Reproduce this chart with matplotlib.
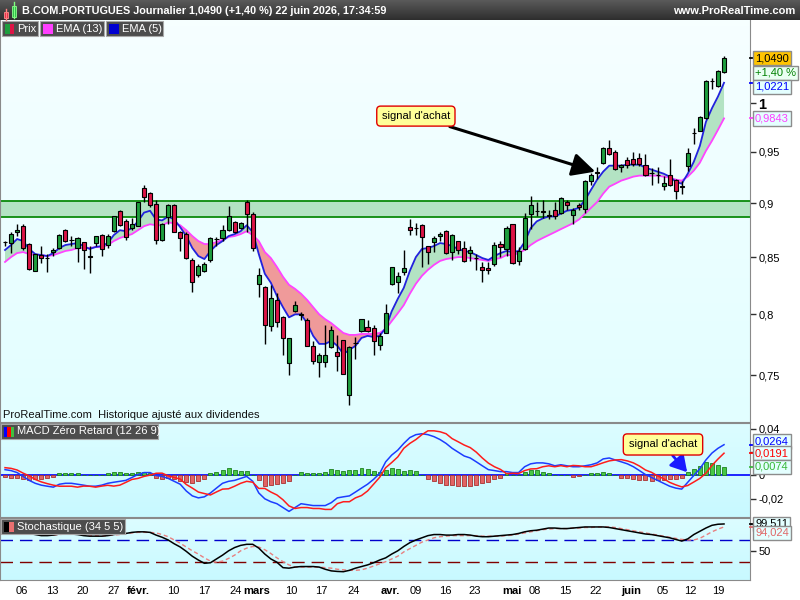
import numpy as np
import matplotlib
matplotlib.use("Agg")
from matplotlib import pyplot as plt
from matplotlib.patches import Rectangle
from matplotlib.colors import LinearSegmentedColormap
from matplotlib.ticker import NullLocator

plt.rcParams['font.family'] = ['Liberation Sans', 'DejaVu Sans']

# daily candles, B.COM.PORTUGUES (02 janv. -> 22 juin 2026)
opens = [0.864, 0.863, 0.8725, 0.8785, 0.862, 0.838, 0.852, 0.849, 0.8543, 0.858,
         0.8745, 0.8657, 0.8585, 0.8634, 0.8506, 0.8627, 0.8697, 0.861, 0.8734, 0.8925,
         0.8834, 0.8761, 0.8785, 0.9144, 0.910, 0.8988, 0.8657, 0.8866, 0.8979, 0.8725,
         0.8709, 0.8476, 0.8342, 0.838, 0.8471, 0.8664, 0.8673, 0.8748, 0.8825, 0.8766,
         0.9012, 0.890, 0.8257, 0.8234, 0.790, 0.8123, 0.798, 0.7596, 0.8029, 0.800,
         0.795, 0.774, 0.7604, 0.761, 0.7732, 0.7686, 0.7787, 0.7346, 0.776, 0.7858,
         0.7896, 0.7883, 0.7748, 0.7842, 0.8257, 0.8283, 0.8366, 0.8773, 0.8764, 0.8791,
         0.8597, 0.8634, 0.8688, 0.8734, 0.8543, 0.8643, 0.858, 0.8534, 0.849, 0.841,
         0.8404, 0.8436, 0.8618, 0.8573, 0.880, 0.8462, 0.8573, 0.8897, 0.892, 0.8915,
         0.8875, 0.8936, 0.8906, 0.9007, 0.8885, 0.8982, 0.8942, 0.9213, 0.930, 0.9389,
         0.9544, 0.9503, 0.9346, 0.9422, 0.9432, 0.9438, 0.9366, 0.929, 0.9275, 0.916,
         0.9275, 0.922, 0.9155, 0.9356, 0.969, 0.9714, 0.985, 1.0235, 1.019, 1.0335]
highs = [0.865, 0.873, 0.880, 0.880, 0.8625, 0.853, 0.860, 0.853, 0.858, 0.871,
         0.8755, 0.8694, 0.868, 0.864, 0.860, 0.8694, 0.871, 0.871, 0.8882, 0.8936,
         0.8845, 0.886, 0.901, 0.9176, 0.911, 0.9027, 0.8815, 0.8988, 0.8988, 0.874,
         0.8725, 0.8489, 0.8439, 0.8453, 0.8682, 0.868, 0.8791, 0.8975, 0.883, 0.8825,
         0.9027, 0.8912, 0.840, 0.824, 0.825, 0.818, 0.7986, 0.7805, 0.811, 0.802,
         0.7973, 0.7775, 0.768, 0.791, 0.7904, 0.7828, 0.779, 0.7735, 0.781, 0.7962,
         0.795, 0.791, 0.7844, 0.8088, 0.8415, 0.837, 0.8567, 0.8852, 0.8815, 0.880,
         0.8603, 0.8688, 0.873, 0.8743, 0.871, 0.8648, 0.8643, 0.8603, 0.8527, 0.8459,
         0.8453, 0.8634, 0.8648, 0.8785, 0.8806, 0.8588, 0.8906, 0.907, 0.9013, 0.9027,
         0.893, 0.901, 0.906, 0.9027, 0.8955, 0.900, 0.922, 0.929, 0.935, 0.9545,
         0.9616, 0.952, 0.9382, 0.9454, 0.950, 0.949, 0.948, 0.934, 0.935, 0.926,
         0.943, 0.923, 0.9213, 0.954, 0.974, 0.9865, 1.0255, 1.027, 1.036, 1.052]
lows = [0.860, 0.854, 0.869, 0.856, 0.8385, 0.8375, 0.845, 0.8365, 0.8506, 0.857,
        0.8634, 0.8597, 0.846, 0.8395, 0.836, 0.860, 0.8506, 0.8585, 0.8725, 0.8785,
        0.8657, 0.8748, 0.878, 0.9013, 0.8966, 0.8618, 0.8648, 0.880, 0.8725, 0.8557,
        0.8482, 0.819, 0.8322, 0.8366, 0.8459, 0.8603, 0.8648, 0.8739, 0.8715, 0.8755,
        0.8725, 0.8557, 0.815, 0.775, 0.7863, 0.789, 0.7666, 0.750, 0.802, 0.7953,
        0.7735, 0.759, 0.749, 0.7564, 0.772, 0.7535, 0.751, 0.7268, 0.763, 0.7855,
        0.785, 0.7666, 0.770, 0.784, 0.825, 0.818, 0.8336, 0.870, 0.870, 0.841,
        0.844, 0.8543, 0.865, 0.8525, 0.8474, 0.8527, 0.8456, 0.8467, 0.8386, 0.828,
        0.835, 0.8424, 0.850, 0.851, 0.8442, 0.8433, 0.8567, 0.8755, 0.8875, 0.886,
        0.8845, 0.8845, 0.890, 0.8936, 0.880, 0.8936, 0.891, 0.9176, 0.9232, 0.938,
        0.947, 0.9324, 0.9305, 0.934, 0.9356, 0.9356, 0.926, 0.9176, 0.919, 0.9124,
        0.9166, 0.9043, 0.909, 0.931, 0.958, 0.971, 0.984, 1.0155, 1.0173, 1.0325]
closes = [0.8635, 0.8706, 0.8745, 0.858, 0.839, 0.8527, 0.8495, 0.8488, 0.8564, 0.8705,
          0.8643, 0.8656, 0.867, 0.8564, 0.8505, 0.8688, 0.857, 0.8694, 0.8875, 0.8794,
          0.8685, 0.8806, 0.9007, 0.9056, 0.898, 0.8652, 0.8806, 0.8979, 0.8727, 0.867,
          0.8491, 0.8278, 0.8418, 0.8439, 0.8676, 0.8663, 0.8745, 0.8879, 0.8725, 0.8815,
          0.890, 0.8579, 0.8342, 0.7912, 0.814, 0.7932, 0.780, 0.780, 0.8079, 0.7998,
          0.774, 0.7617, 0.766, 0.7664, 0.7869, 0.7653, 0.7514, 0.7727, 0.7758, 0.7959,
          0.7863, 0.778, 0.7822, 0.8014, 0.841, 0.8331, 0.8404, 0.8748, 0.8762, 0.868,
          0.8543, 0.8673, 0.8712, 0.8534, 0.870, 0.8567, 0.8462, 0.8564, 0.8488, 0.8383,
          0.8383, 0.8612, 0.8588, 0.8761, 0.8445, 0.8557, 0.8861, 0.8982, 0.8921, 0.892,
          0.8885, 0.8875, 0.9046, 0.8982, 0.8936, 0.8966, 0.9213, 0.9269, 0.9288, 0.9538,
          0.948, 0.9333, 0.9373, 0.9373, 0.938, 0.938, 0.9269, 0.9291, 0.9272, 0.9193,
          0.917, 0.9115, 0.916, 0.9487, 0.9697, 0.986, 1.0244, 1.024, 1.0345, 1.049]

ema5 = [0.8564, 0.8609, 0.8664, 0.8645, 0.8573, 0.8527, 0.8518, 0.8509, 0.8536, 0.8582,
        0.8609, 0.8618, 0.8627, 0.86, 0.8573, 0.8591, 0.86, 0.8627, 0.87, 0.8745,
        0.8736, 0.8764, 0.8827, 0.8909, 0.8927, 0.8845, 0.8836, 0.8873, 0.8845, 0.8773,
        0.8691, 0.8582, 0.8509, 0.8482, 0.8555, 0.8609, 0.8645, 0.8691, 0.8709, 0.8736,
        0.8791, 0.8727, 0.8527, 0.8351, 0.8272, 0.8158, 0.8061, 0.7975, 0.80, 0.80,
        0.7926, 0.782, 0.7754, 0.7754, 0.7779, 0.7738, 0.7672, 0.7705, 0.7738, 0.7803,
        0.782, 0.7811, 0.782, 0.7885, 0.8026, 0.8132, 0.8228, 0.8377, 0.85, 0.8573,
        0.8582, 0.86, 0.8627, 0.8618, 0.86, 0.8573, 0.8555, 0.8545, 0.8518, 0.8491,
        0.8474, 0.8509, 0.8536, 0.8555, 0.8545, 0.8555, 0.8636, 0.8764, 0.8827, 0.8855,
        0.8873, 0.8873, 0.89, 0.8927, 0.8936, 0.8955, 0.903, 0.9128, 0.9226, 0.9304,
        0.9363, 0.9363, 0.9363, 0.9373, 0.9373, 0.9373, 0.9343, 0.9324, 0.9304, 0.9284,
        0.9255, 0.9206, 0.9186, 0.9284, 0.9402, 0.9561, 0.9806, 0.9949, 1.0074, 1.0221]
ema13 = [0.8456, 0.85, 0.8536, 0.8545, 0.8527, 0.8518, 0.8518, 0.8509, 0.8518, 0.8536,
         0.8555, 0.8564, 0.8582, 0.8582, 0.8582, 0.8591, 0.8591, 0.8609, 0.8645, 0.8673,
         0.8691, 0.8709, 0.8745, 0.8782, 0.88, 0.8791, 0.8791, 0.8818, 0.8809, 0.8791,
         0.8745, 0.8691, 0.8645, 0.8618, 0.8618, 0.8636, 0.8655, 0.8682, 0.8691, 0.8709,
         0.8736, 0.87, 0.8645, 0.8545, 0.8491, 0.8412, 0.8325, 0.8254, 0.8219, 0.8176,
         0.8123, 0.8061, 0.80, 0.7959, 0.7926, 0.7885, 0.7844, 0.7828, 0.7828, 0.7836,
         0.7836, 0.7836, 0.7844, 0.7877, 0.7943, 0.8009, 0.8079, 0.8176, 0.8263, 0.8333,
         0.8386, 0.843, 0.8465, 0.8482, 0.8491, 0.85, 0.85, 0.8491, 0.8482, 0.8474,
         0.8465, 0.8482, 0.8491, 0.8518, 0.8518, 0.8536, 0.8564, 0.8609, 0.8645, 0.8673,
         0.87, 0.8727, 0.8755, 0.8782, 0.8809, 0.8845, 0.89, 0.8955, 0.901, 0.909,
         0.9157, 0.9186, 0.9216, 0.9235, 0.9255, 0.9265, 0.9265, 0.9265, 0.9265, 0.9255,
         0.9245, 0.9226, 0.9216, 0.9255, 0.9314, 0.9392, 0.951, 0.9612, 0.9725, 0.9843]
zone_low, zone_high = 0.887, 0.902

macd = [0.005, 0.0042, 0.0025, -0.0008, -0.0042, -0.0067, -0.0083, -0.0092, -0.01, -0.0075,
        -0.0067, -0.0067, -0.0075, -0.0083, -0.0092, -0.0092, -0.0083, -0.0067, -0.0058, -0.005,
        -0.0042, -0.0017, 0.0008, 0.0025, 0.0025, 0.0, -0.0008, -0.0025, -0.005, -0.0075,
        -0.0133, -0.0175, -0.0192, -0.0183, -0.015, -0.0108, -0.0067, -0.005, -0.0042, -0.0025,
        -0.0008, -0.005, -0.015, -0.02, -0.0225, -0.0242, -0.0275, -0.0308, -0.0275, -0.0242,
        -0.025, -0.0258, -0.0258, -0.0258, -0.0233, -0.0192, -0.0183, -0.0175, -0.0142, -0.0108,
        -0.0075, -0.0033, 0.0017, 0.0117, 0.0175, 0.0217, 0.0275, 0.0325, 0.035, 0.0358,
        0.035, 0.0333, 0.0308, 0.0275, 0.0233, 0.02, 0.0167, 0.015, 0.0117, 0.0083,
        0.005, 0.0042, 0.0033, 0.0033, 0.0025, 0.0025, 0.0075, 0.01, 0.0108, 0.0108,
        0.01, 0.0083, 0.0092, 0.0083, 0.0075, 0.0075, 0.0083, 0.0092, 0.0108, 0.0142,
        0.015, 0.0133, 0.0117, 0.01, 0.0075, 0.0042, 0.0008, -0.0017, -0.0042, -0.0067,
        -0.0092, -0.0108, -0.0117, -0.0058, 0.0, 0.0058, 0.0133, 0.0192, 0.0233, 0.0264]
macd_signal = [0.0067, 0.0061, 0.0047, 0.002, -0.0003, -0.0034, -0.0055, -0.007, -0.0083, -0.0092,
               -0.0092, -0.0092, -0.01, -0.0091, -0.0092, -0.01, -0.0091, -0.0084, -0.0091, -0.0083,
               -0.0059, -0.0034, -0.0025, -0.0008, 0.0003, 0.0019, 0.002, -0.0003, -0.0017, -0.0031,
               -0.0077, -0.0108, -0.0142, -0.0155, -0.0167, -0.0141, -0.0117, -0.0114, -0.0092, -0.0067,
               -0.005, -0.0058, -0.0111, -0.0111, -0.0142, -0.0167, -0.0208, -0.0261, -0.0283, -0.0275,
               -0.0275, -0.0283, -0.0283, -0.0291, -0.0291, -0.0242, -0.0225, -0.0225, -0.0192, -0.0172,
               -0.0133, -0.0075, -0.0016, 0.0067, 0.0111, 0.0159, 0.0233, 0.0275, 0.0308, 0.035,
               0.0383, 0.0383, 0.0375, 0.0358, 0.0316, 0.0289, 0.0261, 0.0239, 0.02, 0.015,
               0.0106, 0.0075, 0.0052, 0.0016, 0.0019, 0.0017, 0.0042, 0.0056, 0.0058, 0.0075,
               0.0083, 0.0075, 0.0084, 0.0075, 0.0086, 0.0083, 0.0075, 0.0075, 0.0091, 0.0109,
               0.0125, 0.0133, 0.0136, 0.0125, 0.0108, 0.0081, 0.0047, 0.0027, -0.0003, -0.0028,
               -0.0059, -0.008, -0.0098, -0.0086, -0.0056, -0.0025, 0.0019, 0.0086, 0.0141, 0.0191]
macd_hist = [-0.0017, -0.0019, -0.0022, -0.0028, -0.0039, -0.0033, -0.0028, -0.0022, -0.0017, 0.0017,
             0.0025, 0.0025, 0.0025, 0.0008, 0.0, 0.0008, 0.0008, 0.0017, 0.0033, 0.0033,
             0.0017, 0.0017, 0.0033, 0.0033, 0.0022, -0.0019, -0.0028, -0.0022, -0.0033, -0.0044,
             -0.0056, -0.0067, -0.005, -0.0028, 0.0017, 0.0033, 0.005, 0.0064, 0.005, 0.0042,
             0.0042, 0.0008, -0.0039, -0.0089, -0.0083, -0.0075, -0.0067, -0.0047, 0.0008, 0.0033,
             0.0025, 0.0025, 0.0025, 0.0033, 0.0058, 0.005, 0.0042, 0.005, 0.005, 0.0064,
             0.0058, 0.0042, 0.0033, 0.005, 0.0064, 0.0058, 0.0042, 0.005, 0.0042, 0.0008,
             -0.0033, -0.005, -0.0067, -0.0083, -0.0083, -0.0089, -0.0094, -0.0089, -0.0083, -0.0067,
             -0.0056, -0.0033, -0.0019, 0.0017, 0.0006, 0.0008, 0.0033, 0.0044, 0.005, 0.0033,
             0.0017, 0.0008, 0.0008, 0.0008, -0.0011, -0.0008, 0.0008, 0.0017, 0.0017, 0.0033,
             0.0025, 0.0, -0.0019, -0.0025, -0.0033, -0.0039, -0.0039, -0.0044, -0.0039, -0.0039,
             -0.0033, -0.0028, -0.0019, 0.0028, 0.0056, 0.0083, 0.0114, 0.0106, 0.0092, 0.0074]

stoch_k = [82, 84, 86, 85, 82, 80, 78, 78, 79, 81,
           82, 81, 80, 78, 77, 77, 77, 78, 80, 82,
           82, 84, 85, 85, 84, 79, 75, 70, 63, 57,
           49, 40, 33, 27, 28, 35, 42, 50, 56, 60,
           62, 62, 55, 44, 35, 29, 19, 18, 20, 21,
           21, 21, 20, 16, 13, 12, 11.5, 14, 18, 21,
           24, 28, 33, 37, 44, 50, 58, 65, 70, 74,
           78, 80, 80, 79, 79, 80, 80, 79, 77, 76,
           76, 77, 78, 79, 80, 82, 85, 87, 88, 90,
           92, 92, 91, 91, 92, 93, 94, 94, 94, 94,
           93, 91, 89, 87, 85, 83, 81, 80, 78, 76,
           74, 71, 68, 72, 80, 86, 92, 97, 99, 99.511]
stoch_d = [82, 83, 84, 85, 84, 82, 80, 79, 79, 80,
           81, 81, 81, 80, 79, 78, 77, 78, 79, 80,
           82, 83, 84, 84, 84, 83, 80, 76, 70, 64,
           57, 50, 44, 37, 31, 29, 31, 36, 42, 50,
           55, 58, 57, 52, 45, 37, 30, 24, 20, 20,
           20, 20, 20, 19, 18, 16, 15, 14, 14, 15,
           18, 22, 26, 30, 35, 40, 48, 54, 60, 66,
           70, 74, 76, 77, 78, 78, 78, 78, 78, 77,
           77, 77, 77, 78, 79, 81, 83, 85, 87, 89,
           90, 91, 91, 91, 92, 92, 93, 93, 94, 94,
           94, 93, 91, 89, 87, 85, 83, 81, 79, 77,
           75, 73, 71, 70, 70, 73, 79, 85, 90, 94.024]

date_ticks = [2.8, 7.9, 12.9, 17.9, 22.0, 27.9, 32.9, 38.1, 41.7, 47.4, 52.4, 57.7,
              63.7, 67.9, 72.8, 77.8, 83.9, 87.7, 92.7, 97.7, 103.6, 108.8, 113.4, 118.0]
date_labels = ["06", "13", "20", "27", "févr.", "10", "17", "24", "mars", "10", "17", "24",
               "avr.", "09", "16", "23", "mai", "08", "15", "22", "juin", "05", "12", "19"]
months = ["févr.", "mars", "avr.", "mai", "juin"]
price_ticks = [0.75, 0.8, 0.85, 0.9, 0.95, 1.0]
price_labels = ["0,75", "0,8", "0,85", "0,9", "0,95", "1"]

title = "B.COM.PORTUGUES Journalier 1,0490 (+1,40 %) 22 juin 2026, 17:34:59"

o = np.array(opens); h = np.array(highs); l = np.array(lows); c = np.array(closes)
e5 = np.array(ema5); e13 = np.array(ema13)
x = np.arange(len(c))
xlim = (-0.83, 123.3)

W, H = 800, 600
def frac(left, top, width, height):
    return [left / W, 1 - (top + height) / H, width / W, height / H]

fig = plt.figure(figsize=(8, 6), dpi=100)

# backgrounds (pixel coordinates)
bg = fig.add_axes([0, 0, 1, 1], zorder=-5)
grad = np.linspace(0, 1, 64).reshape(-1, 1)
bg.imshow(grad, extent=[0, 750, 422, 20], aspect='auto',
          cmap=LinearSegmentedColormap.from_list('m', ['#f6ffff', '#e2feff']))
bg.imshow(grad, extent=[0, 750, 517, 423], aspect='auto',
          cmap=LinearSegmentedColormap.from_list('p', ['#dcfdff', '#c8f9ff']))
bg.imshow(grad, extent=[0, 750, 580, 518], aspect='auto',
          cmap=LinearSegmentedColormap.from_list('s', ['#dcfdff', '#c8f9ff']))
bg.set_xlim(0, W); bg.set_ylim(H, 0); bg.axis('off')

ax = fig.add_axes(frac(0, 20, 750, 402))
ax_m = fig.add_axes(frac(0, 423, 750, 94))
ax_s = fig.add_axes(frac(0, 518, 750, 62))

for a in (ax, ax_m, ax_s):
    a.patch.set_visible(False)
    for s in a.spines.values():
        s.set_color('#8a8a8a')
    a.set_xlim(xlim)
    a.yaxis.tick_right()
    a.tick_params(axis='y', length=4, width=1, color='#303030', labelsize=8, pad=2)
    a.tick_params(axis='x', bottom=False, labelbottom=False)

# ---- price panel
ax.set_yscale('log')
ax.axhspan(zone_low, zone_high, facecolor='#b3e3c3', edgecolor='none', zorder=1)
ax.axhline(zone_low, color='#0a8a0a', lw=1.3, zorder=1.5)
ax.axhline(zone_high, color='#0a8a0a', lw=1.3, zorder=1.5)
ax.fill_between(x, e5, e13, where=e5 >= e13, interpolate=True, color='#b3e3c3', lw=0, zorder=2)
ax.fill_between(x, e5, e13, where=e5 < e13, interpolate=True, color='#ef9a9a', lw=0, zorder=2)
ax.plot(x, e13, color='#ff44ff', lw=1.3, zorder=3)
ax.plot(x, e5, color='#2222dd', lw=1.3, zorder=3)

up = c >= o
body_col = np.where(up, '#1e9e3e', '#dc1446')
ax.vlines(x, l, h, color='black', lw=1, zorder=4)
ax.bar(x, np.abs(c - o), bottom=np.minimum(o, c), width=0.68, color=body_col,
       edgecolor='black', lw=0.8, zorder=5)

ax.set_ylim(0.7139, 1.0923)
ax.yaxis.set_minor_locator(NullLocator())
ax.set_yticks(price_ticks)
ax.set_yticklabels(price_labels)
for t in ax.get_yticklabels():
    if t.get_text() == "1":
        t.set_fontweight('bold'); t.set_fontsize(10.5)
ax.spines['top'].set_visible(False)

ax.annotate("signal d'achat", xy=(97.7, 0.9304), xytext=(68.0, 0.9867),
            fontsize=8, ha='center', va='center', zorder=8,
            bbox=dict(boxstyle='round,pad=0.45,rounding_size=0.35', fc='#ffff99', ec='#e00000', lw=1),
            arrowprops=dict(arrowstyle='-|>,head_length=0.7,head_width=0.35', color='black',
                            lw=2.2, mutation_scale=20, shrinkA=0, shrinkB=0))

# ---- MACD panel
ax_m.axhline(0, color='#0000ff', lw=1.2, zorder=1)
hist = np.array(macd_hist)
ax_m.bar(x, hist, width=0.66, color=np.where(hist >= 0, '#46c846', '#e26464'),
         edgecolor=np.where(hist >= 0, '#1f7f1f', '#a83232'), lw=0.6, zorder=2)
ax_m.plot(x, macd, color='#1c3cff', lw=1.1, zorder=3)
ax_m.plot(x, macd_signal, color='#ff1c1c', lw=1.1, zorder=3)
ax_m.set_ylim(-0.0356, 0.045)
ax_m.set_yticks([0.04, 0.02, 0.0, -0.02])
ax_m.set_yticklabels(["0,04", "", "0", "-0,02"])
ax_m.annotate("signal d'achat", xy=(112.9, 0.0028), xytext=(108.9, 0.0266),
              fontsize=8, ha='center', va='center', zorder=8,
              bbox=dict(boxstyle='round,pad=0.5,rounding_size=0.35', fc='#ffff99', ec='#e00000', lw=1),
              arrowprops=dict(arrowstyle='-|>,head_length=0.6,head_width=0.35', color='#1a1aff',
                              lw=2, mutation_scale=16, shrinkA=0, shrinkB=0))

# ---- Stochastic panel
ax_s.axhline(70, color='#0000cc', lw=1, dashes=(9, 5))
ax_s.axhline(30, color='#800000', lw=1, dashes=(9, 5))
ax_s.plot(x, stoch_d, color='#e88080', lw=1, dashes=(3, 2))
ax_s.plot(x, stoch_k, color='black', lw=1.1)
ax_s.set_ylim(-3.8, 110.5)
ax_s.set_yticks([100, 50])
ax_s.set_yticklabels(["", "50"])
ax_s.tick_params(axis='x', bottom=True, labelbottom=True, length=0, labelsize=8, pad=4)
ax_s.set_xticks(date_ticks)
ax_s.set_xticklabels(date_labels)
for t in ax_s.get_xticklabels():
    if t.get_text() in months:
        t.set_fontweight('bold')

# ---- value tags on the right axis
def value_tag(axis, val, text, color, face, dy_px=0, line=True):
    tr = axis.get_yaxis_transform()
    if line:
        axis.plot([1.0, 1.009], [val, val], transform=tr, color=color, lw=1.3, clip_on=False, zorder=6)
    axis.annotate(text, xy=(1.0, val), xycoords=tr, xytext=(3.6, dy_px * 0.72),
                  textcoords='offset points', ha='left', va='center', fontsize=8, color=color,
                  bbox=dict(boxstyle='square,pad=0.2', fc=face, ec='#8c8c8c', lw=1),
                  annotation_clip=False, zorder=7)

value_tag(ax, closes[-1], "1,0490", 'black', '#ffc400')
value_tag(ax, closes[-1], "+1,40 %", '#008000', '#eafff2', dy_px=-14.5, line=False)
value_tag(ax, ema5[-1], "1,0221", '#0000ff', '#e4ffff', dy_px=-4)
value_tag(ax, ema13[-1], "0,9843", '#ff40ff', '#e4ffff')
value_tag(ax_m, macd[-1], "0,0264", '#0000ff', '#e4ffff', dy_px=3)
value_tag(ax_m, macd_signal[-1], "0,0191", '#ff0000', '#e4ffff')
value_tag(ax_m, macd_hist[-1], "0,0074", '#38b838', '#e4ffff')
value_tag(ax_s, stoch_k[-1], "99,511", 'black', '#e4ffff')
value_tag(ax_s, stoch_d[-1], "94,024", '#e06868', '#e4ffff', dy_px=-6)

# ---- overlay: title bar, legend chips, panel captions
ov = fig.add_axes([0, 0, 1, 1], zorder=10)
ov.imshow(grad, extent=[0, W, 20, 0], aspect='auto',
          cmap=LinearSegmentedColormap.from_list('t', ['#5a5a5a', '#2e2e2e']))
ov.set_xlim(0, W); ov.set_ylim(H, 0); ov.axis('off')
ov.patch.set_visible(False)

def rect(x0, y0, w, hh, fc, ec='none', lw=0):
    ov.add_patch(Rectangle((x0, y0), w, hh, facecolor=fc, edgecolor=ec, lw=lw))

# title icon
ov.plot([5.5, 5.5], [9, 20], color='#ff8080', lw=1)
rect(3.5, 12, 4.5, 6, '#e02040', '#ff9090', 0.6)
ov.plot([13.5, 13.5], [2, 18], color='#80ff80', lw=1)
rect(11.5, 5.5, 4.5, 11, '#20b040', '#90ff90', 0.6)
ov.text(22, 10.5, title, color='white', fontsize=7.8, fontweight='bold', va='center')
ov.text(795, 10.5, "www.ProRealTime.com", color='white', fontsize=8, fontweight='bold',
        va='center', ha='right')

# legend chips
rect(2, 21, 36, 15, '#4d4d4d', '#a8a8a8', 0.8)
rect(5, 24, 4.5, 10, '#1e9e3e')
rect(9.5, 24, 4.5, 10, '#dc1446')
ov.text(17, 28.8, "Prix", color='white', fontsize=8, va='center')
rect(40, 21, 64, 15, '#4d4d4d', '#a8a8a8', 0.8)
rect(43, 24, 10, 10, '#ff40ff')
ov.text(56, 28.8, "EMA (13)", color='white', fontsize=8, va='center')
rect(106, 21, 57, 15, '#4d4d4d', '#a8a8a8', 0.8)
rect(109, 24, 10, 10, '#0000d0')
ov.text(122, 28.8, "EMA (5)", color='white', fontsize=8, va='center')

ov.text(3, 415.5, "ProRealTime.com  Historique ajusté aux dividendes", color='#111111',
        fontsize=8, va='center')

rect(1, 423.5, 157, 15.5, '#4d4d4d', '#a8a8a8', 0.8)
rect(4, 426.5, 3.3, 10, '#0000ff')
rect(7.3, 426.5, 3.3, 10, '#ff0000')
rect(10.6, 426.5, 3.3, 10, '#40c040')
ov.text(17, 431.5, "MACD Zéro Retard (12 26 9)", color='white', fontsize=8, va='center')

rect(1, 518.5, 124, 15.5, '#4d4d4d', '#a8a8a8', 0.8)
rect(4, 521.5, 5, 10, '#000000')
rect(9, 521.5, 5, 10, '#e87070')
ov.text(17, 526.5, "Stochastique (34 5 5)", color='white', fontsize=8, va='center')

fig.savefig("out.png", dpi=100)
